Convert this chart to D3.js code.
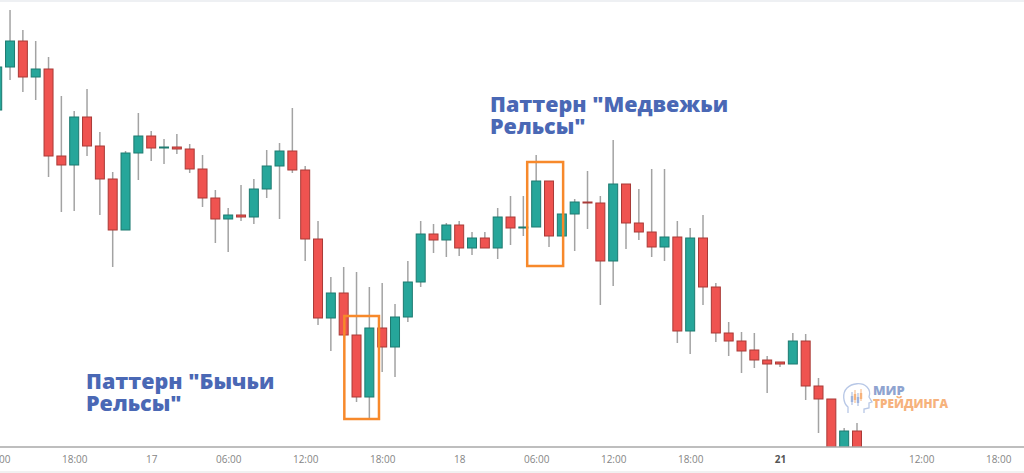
<!DOCTYPE html>
<html>
<head>
<meta charset="utf-8">
<script src="https://cdn.jsdelivr.net/npm/d3@7"></script>
<style>
  body { margin: 0; background: #fff; }
  svg { display: block; font-family: 'Open Sans', sans-serif; }
</style>
</head>
<body>
<div id="chart"></div>
<script>
// hourly candles, prices
const opens = [1.0890, 1.0933, 1.0959, 1.0923, 1.0931, 1.0844, 1.0835, 1.0883, 1.0854, 1.0821,
  1.0770, 1.0847, 1.0864, 1.0852, 1.0853, 1.0851, 1.0831, 1.0802, 1.0781, 1.0785,
  1.0783, 1.0811, 1.0834, 1.0849, 1.0830, 1.0761, 1.0682, 1.0707, 1.0665, 1.0603,
  1.0672, 1.0653, 1.0683, 1.0718, 1.0766, 1.0760, 1.0775, 1.0752, 1.0762, 1.0752,
  1.0783, 1.0772, 1.0773, 1.0819, 1.0764, 1.0786, 1.0798, 1.0797, 1.0739, 1.0816,
  1.0777, 1.0768, 1.0753, 1.0763, 1.0669, 1.0762, 1.0713, 1.0667, 1.0659, 1.0650,
  1.0640, 1.0638, 1.0636, 1.0659, 1.0614, 1.0601, 1.0530, 1.0569]
const highs = [1.0940, 1.0990, 1.0970, 1.0959, 1.0943, 1.0904, 1.0889, 1.0911, 1.0868, 1.0828,
  1.0849, 1.0887, 1.0869, 1.0861, 1.0866, 1.0856, 1.0845, 1.0810, 1.0792, 1.0815,
  1.0821, 1.0850, 1.0857, 1.0892, 1.0834, 1.0779, 1.0723, 1.0733, 1.0728, 1.0713,
  1.0717, 1.0696, 1.0739, 1.0779, 1.0776, 1.0777, 1.0779, 1.0768, 1.0768, 1.0792,
  1.0804, 1.0804, 1.0845, 1.0819, 1.0786, 1.0801, 1.0829, 1.0804, 1.0860, 1.0816,
  1.0811, 1.0831, 1.0831, 1.0779, 1.0772, 1.0785, 1.0717, 1.0678, 1.0668, 1.0667,
  1.0644, 1.0638, 1.0667, 1.0666, 1.0622, 1.0601, 1.0572, 1.0577]
const lows = [1.0888, 1.0920, 1.0908, 1.0900, 1.0823, 1.0788, 1.0789, 1.0844, 1.0785, 1.0733,
  1.0770, 1.0820, 1.0839, 1.0836, 1.0846, 1.0827, 1.0793, 1.0757, 1.0748, 1.0779,
  1.0776, 1.0802, 1.0781, 1.0827, 1.0739, 1.0675, 1.0649, 1.0665, 1.0598, 1.0581,
  1.0628, 1.0623, 1.0678, 1.0713, 1.0747, 1.0743, 1.0744, 1.0745, 1.0752, 1.0741,
  1.0755, 1.0764, 1.0773, 1.0753, 1.0764, 1.0749, 1.0771, 1.0695, 1.0714, 1.0751,
  1.0760, 1.0743, 1.0739, 1.0657, 1.0646, 1.0695, 1.0658, 1.0644, 1.0627, 1.0632,
  1.0607, 1.0633, 1.0636, 1.0600, 1.0567, 1.0525, 1.0525, 1.0525]
const closes = [1.0933, 1.0959, 1.0923, 1.0931, 1.0844, 1.0835, 1.0883, 1.0854, 1.0821, 1.0770,
  1.0847, 1.0864, 1.0852, 1.0853, 1.0851, 1.0831, 1.0802, 1.0781, 1.0785, 1.0783,
  1.0811, 1.0834, 1.0849, 1.0830, 1.0761, 1.0682, 1.0707, 1.0665, 1.0603, 1.0672,
  1.0653, 1.0683, 1.0718, 1.0766, 1.0760, 1.0775, 1.0752, 1.0762, 1.0752, 1.0783,
  1.0772, 1.0773, 1.0819, 1.0764, 1.0786, 1.0798, 1.0797, 1.0739, 1.0816, 1.0777,
  1.0768, 1.0753, 1.0763, 1.0669, 1.0762, 1.0713, 1.0667, 1.0659, 1.0649, 1.0640,
  1.0636, 1.0636, 1.0659, 1.0614, 1.0601, 1.0530, 1.0569, 1.0535]

// axis ticks: bar index and label
const tickBars = [0, 6, 12, 18, 24, 30, 36, 42, 48, 54, 61, 72, 78]
const tickLabels = ['12:00', '18:00', '17', '06:00', '12:00', '18:00', '18', '06:00', '12:00', '18:00', '21', '12:00', '18:00']
const strongLabels = ['21']

// pattern boxes: bar range and price range
const patterns = [
  { lines: ['Паттерн "Бычьи', 'Рельсы"'], bars: [27.05, 29.75], prices: [1.0684, 1.0581] },
  { lines: ['Паттерн "Медвежьи', 'Рельсы"'], bars: [41.3, 44.1], prices: [1.0838, 1.0734] }
]

const width = 1024
const height = 473
const plotBottom = 447

const svg = d3.select('#chart')
  .append('svg')
  .attr('width', width)
  .attr('height', height)

svg.append('rect').attr('x', 0).attr('y', 0).attr('width', width).attr('height', 2).attr('fill', '#eef0f3')
svg.append('rect').attr('x', 0).attr('y', 471).attr('width', width).attr('height', 2).attr('fill', '#f1f1f1')

const xScale = d3.scaleLinear()
  .domain([0, 67])
  .range([-2.8, 857])

const yScale = d3.scaleLinear()
  .domain([1.0553, 1.1000])
  .range([plotBottom, 0])

const candles = opens.map((o, i) => ({ i, o, h: highs[i], l: lows[i], c: closes[i] }))

svg.append('clipPath')
  .attr('id', 'plot-clip')
  .append('rect')
  .attr('x', 0).attr('y', 0)
  .attr('width', width).attr('height', plotBottom)

const plot = svg.append('g').attr('clip-path', 'url(#plot-clip)')

plot.selectAll('.wick')
  .data(candles)
  .enter().append('line')
  .attr('class', 'wick')
  .attr('x1', d => xScale(d.i))
  .attr('x2', d => xScale(d.i))
  .attr('y1', d => yScale(d.h))
  .attr('y2', d => yScale(d.l))
  .attr('stroke', '#a3a3a3')
  .attr('stroke-width', 1.5)

const bodyW = 9
plot.selectAll('.body')
  .data(candles)
  .enter().append('rect')
  .attr('class', 'body')
  .attr('x', d => xScale(d.i) - bodyW / 2)
  .attr('y', d => yScale(Math.max(d.o, d.c)))
  .attr('width', bodyW)
  .attr('height', d => Math.max(1, Math.abs(yScale(d.o) - yScale(d.c))))
  .attr('fill', d => d.c >= d.o ? '#26a69a' : '#ef5350')
  .attr('stroke', d => d.c >= d.o ? '#1d7a70' : '#a93a37')
  .attr('stroke-width', 1)

// orange boxes around the patterns
plot.selectAll('.pattern-box')
  .data(patterns)
  .enter().append('rect')
  .attr('class', 'pattern-box')
  .attr('x', d => xScale(d.bars[0]))
  .attr('y', d => yScale(d.prices[0]))
  .attr('width', d => xScale(d.bars[1]) - xScale(d.bars[0]))
  .attr('height', d => yScale(d.prices[1]) - yScale(d.prices[0]))
  .attr('fill', 'none')
  .attr('stroke', '#f7892b')
  .attr('stroke-width', 2.5)

// x axis
svg.append('line')
  .attr('x1', 0).attr('x2', width)
  .attr('y1', plotBottom).attr('y2', plotBottom)
  .attr('stroke', '#a8a8a8')
  .attr('stroke-width', 1.5)

const xAxis = d3.axisBottom(xScale)
  .tickValues(tickBars)
  .tickFormat((d, k) => tickLabels[k])
  .tickSize(0)
  .tickPadding(9)

const axisG = svg.append('g')
  .attr('transform', `translate(0,${plotBottom})`)
  .call(xAxis)
axisG.select('.domain').remove()
axisG.selectAll('text')
  .attr('font-family', "'Open Sans', sans-serif")
  .attr('font-size', 10)
  .attr('fill', (d, k) => strongLabels.includes(tickLabels[k]) ? '#555' : '#858585')
  .attr('font-weight', (d, k) => strongLabels.includes(tickLabels[k]) ? 700 : 400)

// annotations, one text per line
const notePos = [[86, 388.5], [490, 112]]
patterns.forEach((p, k) => {
  p.lines.forEach((line, j) => {
    svg.append('text')
      .attr('x', notePos[k][0])
      .attr('y', notePos[k][1] + j * 22)
      .attr('font-family', "'Open Sans', sans-serif")
      .attr('font-weight', 800)
      .attr('font-size', 21.5)
      .attr('fill', '#4a68b5')
      .text(line)
  })
})

// watermark logo
const logo = svg.append('g').attr('transform', 'translate(843,383)')
logo.append('path')
  .attr('d', 'M5,30 L5,24 C0,20 -1,10 4,5 C9,0 19,-1 24,4 C27,7 27,11 26,14 L29,19 L26,20 L26,25 L21,26 L21,30')
  .attr('fill', 'none')
  .attr('stroke', '#b7c7e6')
  .attr('stroke-width', 1.3)
const sticks = [[9, 9, 22, '#9fb3dd'], [12, 7, 20, '#f6b27c'], [15, 10, 23, '#9fb3dd'], [18, 6, 18, '#f6b27c']]
sticks.forEach(s => {
  logo.append('line').attr('x1', s[0]).attr('x2', s[0]).attr('y1', s[1]).attr('y2', s[2])
    .attr('stroke', s[3]).attr('stroke-width', 1)
  logo.append('rect').attr('x', s[0] - 1.2).attr('y', s[1] + 4).attr('width', 2.4).attr('height', 6)
    .attr('fill', s[3])
})
svg.append('text')
  .attr('x', 873).attr('y', 395)
  .attr('font-family', "'Open Sans', sans-serif")
  .attr('font-weight', 800)
  .attr('font-size', 13)
  .attr('fill', '#8fa4d0')
  .text('МИР')
svg.append('text')
  .attr('x', 873).attr('y', 408)
  .attr('font-family', "'Open Sans', sans-serif")
  .attr('font-weight', 800)
  .attr('font-size', 11.5)
  .attr('fill', '#f6b27c')
  .attr('textLength', 75)
  .attr('lengthAdjust', 'spacingAndGlyphs')
  .text('ТРЕЙДИНГА')
</script>
</body>
</html>
